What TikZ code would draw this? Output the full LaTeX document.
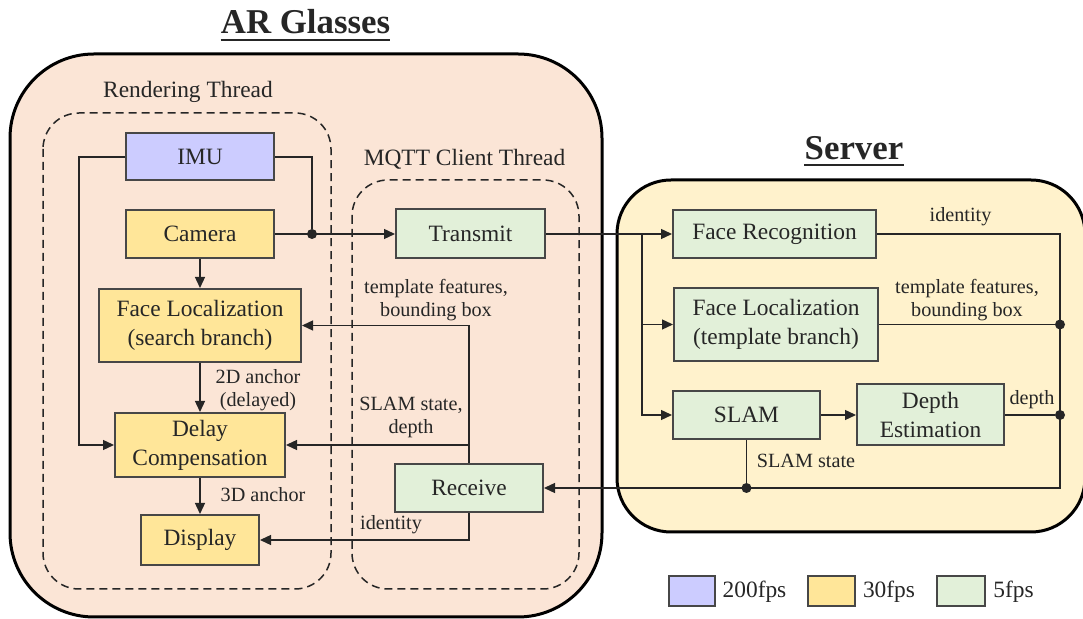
\documentclass[tikz,border=0pt]{standalone}
\usepackage{fontspec}
\setmainfont{LiberationSerif-Regular.ttf}[BoldFont=LiberationSerif-Bold.ttf]
\usetikzlibrary{arrows.meta}

\definecolor{arfill}{HTML}{FBE5D6}
\definecolor{srvfill}{HTML}{FFF2CC}
\definecolor{fpsimu}{HTML}{CCCCFF}
\definecolor{fpscam}{HTML}{FFE699}
\definecolor{fpssrv}{HTML}{E2F0D9}
\definecolor{ink}{HTML}{262626}

\begin{document}
\begin{tikzpicture}[x=0.5pt, y=-0.5pt,
  blk/.style={draw=ink!85, line width=1pt, inner sep=0pt, align=center, text=ink,
    font=\fontsize{11.7}{14.5}\selectfont},
  lbl/.style={inner sep=0pt, align=center, text=ink, font=\fontsize{10.1}{11.5}\selectfont},
  hdr/.style={inner sep=0pt, text=ink, font=\fontsize{17.4}{20}\selectfont\bfseries},
  flow/.style={draw=ink, line width=0.65pt, -{Triangle[length=5.5pt,width=5pt]}},
  wire/.style={draw=ink, line width=0.65pt},
  thread/.style={draw=ink, line width=0.75pt, dash pattern=on 4pt off 2.5pt, rounded corners=18pt},
  dot/.style={circle, fill=ink, inner sep=0pt, minimum size=5pt}]

\useasboundingbox (0,0) rectangle (1083,619);

\draw[fill=arfill, line width=1.5pt, rounded corners=42pt] (10,54) rectangle (602,617);
\draw[fill=srvfill, line width=1.5pt, rounded corners=27pt] (617,180) rectangle (1085,532);
\draw[thread] (43,113) rectangle (331,589);
\draw[thread] (352,180) rectangle (579,589);

\node[hdr, anchor=base] (argl) at (305.5,34) {AR Glasses};
\draw[line width=1.3pt, ink] ([yshift=-3pt]argl.base west) -- ([yshift=-3pt]argl.base east);
\node[hdr, anchor=base] (srv) at (854,160) {Server};
\draw[line width=1.3pt, ink] ([yshift=-2.5pt]srv.base west) -- ([yshift=-2.5pt]srv.base east);

\node[lbl, anchor=base, font=\fontsize{11.7}{14}\selectfont] (rth) at (188,98) {Rendering Thread};
\node[lbl, anchor=base, font=\fontsize{11.7}{14}\selectfont] (mth) at (464.5,166) {MQTT Client Thread};

\node[blk, fill=fpsimu, minimum width=74pt, minimum height=23.5pt] (imu) at (200,157) {IMU};
\node[blk, fill=fpscam, minimum width=74pt, minimum height=24pt] (cam) at (200,234) {Camera};
\node[blk, fill=fpscam, minimum width=101pt, minimum height=36.5pt] (fls) at (200,325.5) {Face Localization\\(search branch)};
\node[blk, fill=fpscam, minimum width=85pt, minimum height=32pt] (delay) at (200,445) {Delay\\Compensation};
\node[blk, fill=fpscam, minimum width=59pt, minimum height=25pt] (disp) at (200,540) {Display};
\node[blk, fill=fpssrv, minimum width=74.5pt, minimum height=24.5pt] (tx) at (470.5,234) {Transmit};
\node[blk, fill=fpssrv, minimum width=74pt, minimum height=24pt] (rx) at (469,488) {Receive};

\node[blk, fill=fpssrv, minimum width=101.5pt, minimum height=24pt] (frec) at (774.5,234) {Face Recognition};
\node[blk, fill=fpssrv, minimum width=102pt, minimum height=36.5pt] (floct) at (776,324.5) {Face Localization\\(template branch)};
\node[blk, fill=fpssrv, minimum width=73.5pt, minimum height=24pt] (slam) at (746.5,415) {SLAM};
\node[blk, fill=fpssrv, minimum width=73.5pt, minimum height=30.5pt] (depth) at (930.5,415) {Depth\\Estimation};

\node[dot] (jc) at (312,234) {};
\coordinate (sb) at (642,234);
\coordinate (sr) at (1060,488);
\node[dot] (dloc) at (floct.east -| sr) {};
\node[dot] (ddep) at (depth.east -| sr) {};
\node[dot] (dslam) at (slam.south |- sr) {};

\draw[flow] (imu.west) -- ++(-46,0) |- (delay.west);
\draw[wire] (imu.east) -| (jc);
\draw[flow] (cam) -- (tx);
\draw[flow] (cam) -- (fls);
\draw[flow] (fls) -- (delay);
\draw[flow] (delay) -- (disp);
\draw[flow] (rx.north) |- (fls.east);
\draw[flow] (rx.north |- delay.east) -- (delay.east);
\draw[flow] (rx.south) |- (disp.east);

\draw[flow] (tx) -- (frec);
\draw[flow] (sb) |- (floct.west);
\draw[flow] (sb) |- (slam.west);
\draw[flow] (slam) -- (depth);
\draw[flow] (frec.east) -| (sr) -- (rx.east);
\draw[wire] (floct.east) -- (dloc);
\draw[wire] (depth.east) -- (ddep);
\draw[wire] (slam.south) -- (dslam);

\node[lbl] (tfl) at (436,300) {template features,\\bounding box};
\node[lbl] (anc2) at (258,390) {2D anchor\\(delayed)};
\node[lbl] (sdl) at (411,417) {SLAM state,\\depth};
\node[lbl, anchor=base] (anc3) at (263,502) {3D anchor};
\node[lbl, anchor=base] (idl) at (391,530) {identity};
\node[lbl, anchor=base] (idr) at (960.5,222) {identity};
\node[lbl] (tfr) at (967,300) {template features,\\bounding box};
\node[lbl, anchor=base] (dpr) at (1032,405) {depth};
\node[lbl, anchor=base] (ssr) at (806,468) {SLAM state};

\node[blk, fill=fpsimu, minimum width=23pt, minimum height=15pt] (lgimu) at (692,591) {};
\node[blk, fill=fpscam, minimum width=23.5pt, minimum height=15pt] (lgcam) at (831.5,591) {};
\node[blk, fill=fpssrv, minimum width=24pt, minimum height=15pt] (lgsrv) at (961,591) {};
\node[lbl, anchor=base, font=\fontsize{11.7}{14}\selectfont] (t200) at (754.5,598) {200fps};
\node[lbl, anchor=base, font=\fontsize{11.7}{14}\selectfont] (t30) at (889,598) {30fps};
\node[lbl, anchor=base, font=\fontsize{11.7}{14}\selectfont] (t5) at (1013.5,598) {5fps};

\end{tikzpicture}
\end{document}
